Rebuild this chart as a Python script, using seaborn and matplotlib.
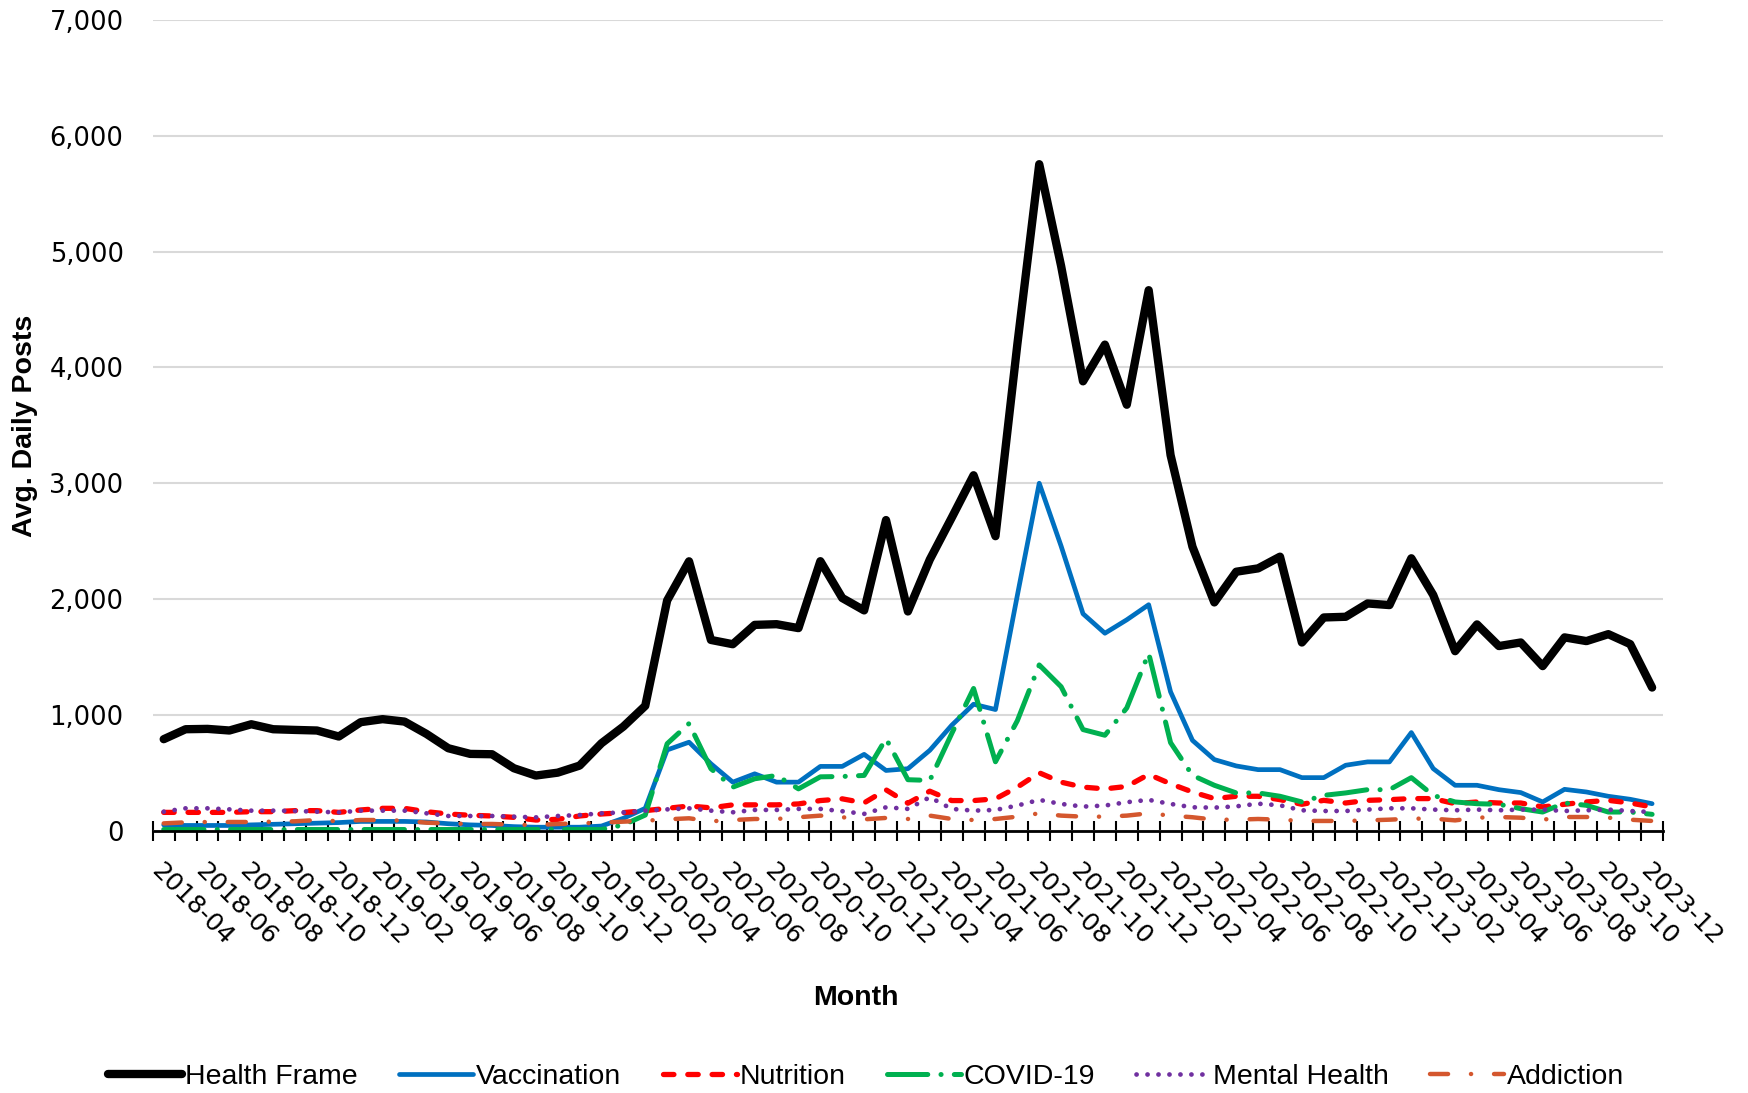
import pandas as pd
import matplotlib.pyplot as plt
import matplotlib.transforms as mtransforms
import seaborn as sns
from matplotlib.ticker import FuncFormatter

# Monthly categories, 2018-04 .. 2023-12
months = pd.date_range('2018-04-01', periods=69, freq='MS').strftime('%Y-%m').tolist()

# Avg. daily posts per month
health_frame = [790, 876, 879, 865, 919, 876, 870, 865, 813, 937, 963, 942, 836, 712, 663, 660, 539, 476,
                501, 562, 755, 899, 1078, 1988, 2326,
                1647, 1610, 1777, 1783, 1749, 2327, 2009, 1902, 2682, 1893, 2341, 2702, 3069, 2543,
                4200, 5755, 4875, 3880, 4197, 3678, 4667, 3243,
                2452, 1971, 2236, 2265, 2366, 1625, 1841, 1847, 1962, 1948, 2352, 2035, 1550, 1781,
                1594, 1625, 1421, 1669, 1637, 1697, 1611, 1236]
vaccination = [50, 45, 45, 45, 50, 55, 60, 65, 70, 80, 80, 80, 75, 60, 50, 45, 35, 30, 30, 30, 40,
               107, 193, 697, 764,
               578, 419, 491, 419, 419, 555, 555, 659, 520, 535, 694, 910, 1092, 1046, 2032, 3000,
               2457, 1873, 1705, 1821, 1951, 1199, 780,
               614, 559, 527, 527, 458, 458, 565, 594, 594, 847, 536, 392, 392, 354, 329, 248, 357,
               334, 297, 271, 233]
nutrition = [158, 158, 158, 158, 164, 164, 173, 173, 158, 179, 193, 193, 164, 144, 133, 127, 115, 92,
             98, 127, 144, 156, 173, 193, 213,
             197, 223, 223, 223, 231, 260, 275, 240, 353, 237, 341, 260, 260, 275, 376, 500, 419,
             376, 361, 382, 486, 405, 334,
             277, 297, 297, 268, 228, 262, 239, 262, 268, 277, 277, 233, 248, 239, 239, 205, 228,
             248, 262, 239, 205]
covid = [10, 10, 10, 10, 10, 10, 10, 10, 10, 10, 10, 10, 10, 10, 10, 10, 10, 10, 10, 10, 10,
         50, 135, 751, 925,
         535, 376, 448, 477, 361, 465, 468, 477, 795, 440, 434, 838, 1228, 595, 950, 1431, 1243,
         873, 824, 1060, 1532, 760, 478,
         392, 326, 326, 297, 248, 305, 326, 354, 354, 458, 305, 248, 233, 228, 190, 161, 239,
         219, 161, 161, 141]
mental_health = [164, 193, 193, 184, 173, 173, 170, 164, 158, 173, 173, 173, 150, 127, 127, 127, 121,
                 115, 127, 135, 150, 158, 173, 184, 193,
                 173, 159, 179, 179, 188, 188, 168, 145, 202, 188, 289, 188, 173, 179, 217, 266,
                 231, 208, 217, 246, 266, 231, 202,
                 199, 210, 233, 219, 176, 170, 170, 182, 193, 193, 182, 176, 182, 176, 182, 182,
                 170, 176, 182, 170, 161]
addiction = [63, 72, 75, 75, 75, 78, 81, 92, 81, 92, 92, 86, 69, 63, 58, 58, 52, 49, 58, 63, 69, 78,
             86, 98, 107,
             81, 92, 101, 101, 116, 130, 116, 98, 110, 101, 130, 101, 92, 101, 121, 150, 130, 121,
             121, 130, 150, 130, 116,
             95, 95, 101, 95, 84, 84, 84, 89, 95, 104, 104, 89, 112, 118, 112, 95, 118, 118, 112,
             95, 84]

series_names = ['Health Frame', 'Vaccination', 'Nutrition', 'COVID-19', 'Mental Health', 'Addiction']
series_values = [health_frame, vaccination, nutrition, covid, mental_health, addiction]

# line styles (dash patterns in points)
styles = {
    'Health Frame': dict(color='#000000', linewidth=6.0, linestyle='-'),
    'Vaccination': dict(color='#0070C0', linewidth=3.4, linestyle='-'),
    'Nutrition': dict(color='#FF0000', linewidth=3.8, linestyle=(0, (7.5, 10))),
    'COVID-19': dict(color='#00B050', linewidth=3.6, linestyle=(0, (29, 9.5, 0.1, 9.5))),
    'Mental Health': dict(color='#7030A0', linewidth=3.4, linestyle=(0, (0.1, 7.8))),
    'Addiction': dict(color='#D4572E', linewidth=3.2, linestyle=(0, (13, 16.5, 0.1, 16.5))),
}

sns.set_theme(style='white')
plt.rcParams['font.family'] = ['DejaVu Sans']
plt.rcParams['lines.scale_dashes'] = False
for key in ['text.color', 'axes.labelcolor', 'xtick.color', 'ytick.color']:
    plt.rcParams[key] = 'black'
label_font = ['Liberation Sans']

fig = plt.figure(figsize=(17.48, 10.93), dpi=100)
ax = fig.add_axes([0.0874, 0.240, 0.864, 0.7417])

idx = list(range(len(months)))
for name, vals in zip(series_names, series_values):
    sns.lineplot(x=idx, y=vals, ax=ax, label=name, legend=False, **styles[name])
    line = ax.lines[-1]
    line.set_dash_capstyle('round')
    line.set_solid_capstyle('round')
    line.set_solid_joinstyle('round')
    line.set_dash_joinstyle('round')

# axes
ax.set_xlim(-0.5, len(months) - 0.5)
ax.set_ylim(0, 7000)
ax.set_yticks(range(0, 7001, 1000))
ax.yaxis.set_major_formatter(FuncFormatter(lambda v, p: f'{int(v):,}'))
ax.set_xticks(idx[::2])
ax.set_xticklabels(months[::2], rotation=-45, ha='left', va='top', rotation_mode='anchor', fontsize=18)
shift = mtransforms.ScaledTranslation(7 / 100, 0, fig.dpi_scale_trans)
for lab in ax.get_xticklabels():
    lab.set_transform(lab.get_transform() + shift)
ax.set_xticks([i - 0.5 for i in range(len(months) + 1)], minor=True)
ax.tick_params(axis='x', which='major', length=0, pad=20)
ax.tick_params(axis='x', which='minor', direction='inout', length=14, width=1.5, color='black', bottom=True)
ax.tick_params(axis='y', length=0, pad=21, labelsize=18.5)
ax.grid(axis='y', color='#D9D9D9', linewidth=1.5)
ax.grid(axis='x', visible=False)
ax.set_axisbelow(True)
for s in ['left', 'right', 'top']:
    ax.spines[s].set_visible(False)
ax.spines['bottom'].set_color('black')
ax.spines['bottom'].set_linewidth(2)

ax.set_xlabel('Month', fontsize=20.5, fontweight='bold', family=label_font)
ax.xaxis.set_label_coords(0.4657, -0.2064)
ax.xaxis.label.set_va('center')
ax.set_ylabel('Avg. Daily Posts', fontsize=20.5, fontweight='bold', family=label_font)
ax.yaxis.set_label_coords(-0.0849, 0.4992)
ax.yaxis.label.set_va('center')

handles, labels = ax.get_legend_handles_labels()
fig.legend(handles, labels, loc='center', bbox_to_anchor=(0.4957, 0.0146), ncol=6, frameon=False,
           prop=dict(family=label_font, size=20.5), handlelength=2.6, handletextpad=0.1,
           columnspacing=1.45)

fig.savefig('out.png', dpi=100)
